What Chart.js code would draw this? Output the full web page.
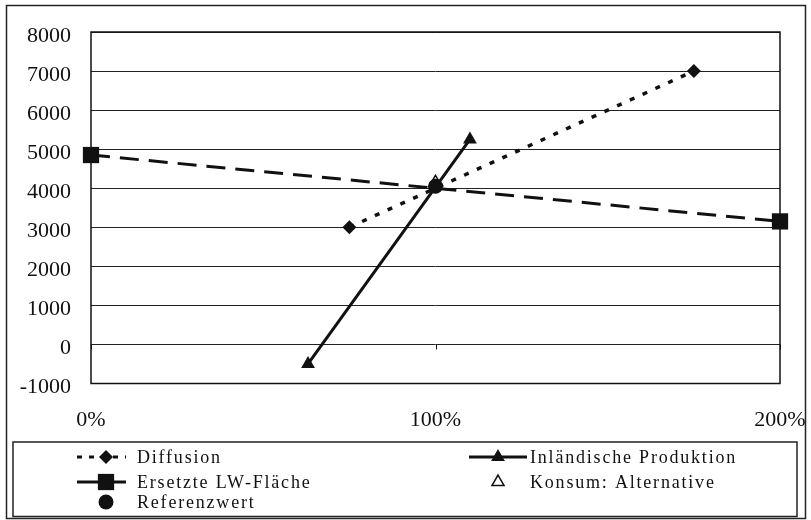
<!DOCTYPE html>
<html>
<head>
<meta charset="utf-8">
<style>
  html, body { margin: 0; padding: 0; background: #fff; }
  #wrap { width: 811px; height: 520px; position: relative; }
</style>
<script src="https://cdn.jsdelivr.net/npm/chart.js@4.4.1/dist/chart.umd.min.js"></script>
</head>
<body>
<div id="wrap"><canvas id="c" width="811" height="520"></canvas></div>
<script>
// ---- data ----
const xTickValues = [0, 100, 200];           // percent
const yMin = -1000, yMax = 8000, yStep = 1000;

const seriesNames = ["Diffusion", "Inländische Produktion", "Ersetzte LW-Fläche", "Konsum: Alternative", "Referenzwert"];

const diffusionX = [75, 175];
const diffusionY = [3000, 7000];

const inlandX = [63, 110];
const inlandY = [-500, 5250];

const ersetzteX = [0, 200];
const ersetzteY = [4850, 3150];

const konsumX = [100];
const konsumY = [4150];

const referenzX = [100];
const referenzY = [4050];

const INK = '#111';
const FONT = '"Liberation Serif", "Times New Roman", serif';

function pts(xs, ys) { return xs.map((x, i) => ({ x: x, y: ys[i] })); }

const datasets = [
  { label: seriesNames[0], data: pts(diffusionX, diffusionY), showLine: true,
    borderColor: INK, backgroundColor: INK, borderWidth: 3.5, borderDash: [5, 9],
    pointStyle: 'rectRot', pointRadius: 7, pointBorderWidth: 0, order: 3, clip: false },
  { label: seriesNames[1], data: pts(inlandX, inlandY), showLine: true,
    borderColor: INK, backgroundColor: INK, borderWidth: 3,
    pointStyle: 'triangle', pointRadius: 8, pointBorderWidth: 0, order: 2, clip: false },
  { label: seriesNames[2], data: pts(ersetzteX, ersetzteY), showLine: true,
    borderColor: INK, backgroundColor: INK, borderWidth: 3, borderDash: [19, 10],
    pointStyle: 'rect', pointRadius: 11.5, pointBorderWidth: 0, order: 4, clip: false },
  { label: seriesNames[3], data: pts(konsumX, konsumY), showLine: false,
    borderColor: INK, backgroundColor: '#fff', borderWidth: 1.5,
    pointStyle: 'triangle', pointRadius: 7, pointBorderWidth: 1.5, order: 1, clip: false },
  { label: seriesNames[4], data: pts(referenzX, referenzY), showLine: false,
    borderColor: INK, backgroundColor: INK, borderWidth: 0,
    pointStyle: 'circle', pointRadius: 7.5, pointBorderWidth: 0, order: 0, clip: false }
];

// legend layout: [datasetIndex, column, row]
const legendLayout = [[0, 0, 0], [1, 1, 0], [2, 0, 1], [3, 1, 1], [4, 0, 2]];

function drawMarker(ctx, style, x, y, r, fill, stroke, bw) {
  ctx.save();
  ctx.setLineDash([]);
  ctx.beginPath();
  if (style === 'rectRot') {
    ctx.moveTo(x, y - r); ctx.lineTo(x + r, y); ctx.lineTo(x, y + r); ctx.lineTo(x - r, y); ctx.closePath();
  } else if (style === 'rect') {
    const s = r * Math.SQRT1_2;
    ctx.rect(x - s, y - s, 2 * s, 2 * s);
  } else if (style === 'triangle') {
    const half = r * Math.sqrt(3) / 2;
    ctx.moveTo(x, y - r); ctx.lineTo(x + half, y + r / 2); ctx.lineTo(x - half, y + r / 2); ctx.closePath();
  } else {
    ctx.arc(x, y, r, 0, Math.PI * 2);
  }
  ctx.fillStyle = fill; ctx.fill();
  if (bw > 0) { ctx.lineWidth = bw; ctx.strokeStyle = stroke; ctx.stroke(); }
  ctx.restore();
}

const framePlugin = {
  id: 'frame',
  beforeDraw(chart) {
    const ctx = chart.ctx;
    ctx.save();
    ctx.fillStyle = '#fff';
    ctx.fillRect(0, 0, chart.width, chart.height);
    ctx.strokeStyle = '#222';
    ctx.lineWidth = 1.5;
    ctx.strokeRect(6.5, 5.5, 799, 513);
    ctx.restore();
  },
  beforeDatasetsDraw(chart) {
    const ctx = chart.ctx, a = chart.chartArea;
    const xs = chart.scales.x, ys = chart.scales.y;
    ctx.save();
    ctx.strokeStyle = INK;
    ctx.lineWidth = 1.5;
    ctx.strokeRect(a.left, a.top, a.right - a.left, a.bottom - a.top);
    // small tick marks on the zero line
    const y0 = ys.getPixelForValue(0);
    ctx.lineWidth = 1;
    xTickValues.forEach(v => {
      const px = Math.round(xs.getPixelForValue(v)) + 0.5;
      ctx.beginPath(); ctx.moveTo(px, y0); ctx.lineTo(px, y0 + 5); ctx.stroke();
    });
    ctx.restore();
  },
  afterDraw(chart) {
    const ctx = chart.ctx;
    ctx.save();
    // legend box
    ctx.strokeStyle = '#222';
    ctx.lineWidth = 1.5;
    ctx.strokeRect(13, 442, 784, 74.5);
    const cols = [{ x0: 77, x1: 126, mx: 106, tx: 137 }, { x0: 469, x1: 527, mx: 498, tx: 530 }];
    const rows = [457, 482, 502];
    ctx.font = '18px ' + FONT;
    if ('letterSpacing' in ctx) ctx.letterSpacing = '1.8px';
    ctx.textBaseline = 'middle';
    ctx.textAlign = 'left';
    legendLayout.forEach(([di, c, r]) => {
      const ds = chart.data.datasets[di];
      const col = cols[c], y = rows[r];
      if (ds.showLine) {
        ctx.save();
        ctx.strokeStyle = ds.borderColor;
        ctx.lineWidth = 3;
        if (di === 0) ctx.setLineDash([5, 7]); else ctx.setLineDash([]);
        ctx.beginPath(); ctx.moveTo(col.x0, y); ctx.lineTo(col.x1, y); ctx.stroke();
        ctx.restore();
      }
      drawMarker(ctx, ds.pointStyle, col.mx, y, ds.pointRadius, ds.backgroundColor, ds.borderColor, ds.pointBorderWidth);
      ctx.fillStyle = INK;
      ctx.fillText(ds.label, col.tx, y + 1);
    });
    ctx.restore();
  }
};

new Chart(document.getElementById('c'), {
  type: 'scatter',
  data: { datasets: datasets },
  plugins: [framePlugin],
  options: {
    responsive: false,
    animation: false,
    devicePixelRatio: 1,
    layout: { padding: { top: 32, right: 31, left: 0, bottom: 0 } },
    plugins: { legend: { display: false }, tooltip: { enabled: false } },
    scales: {
      x: {
        type: 'linear', min: 0, max: 200,
        afterBuildTicks: s => { s.ticks = xTickValues.map(v => ({ value: v })); },
        afterFit: s => { s.height = 136.5; s.paddingLeft = 0; s.paddingRight = 0; },
        grid: { display: false, drawTicks: false },
        border: { display: false },
        ticks: { callback: v => v + '%', color: INK, font: { family: FONT, size: 22 }, padding: 24, maxRotation: 0 }
      },
      y: {
        type: 'linear', min: yMin, max: yMax,
        ticks: { stepSize: yStep, callback: v => String(v), color: INK, font: { family: FONT, size: 22 }, padding: 20, labelOffset: 4 },
        afterFit: s => { s.width = 91; s.paddingTop = 0; s.paddingBottom = 0; },
        grid: { color: '#222', lineWidth: 1, drawTicks: false },
        border: { display: false }
      }
    }
  }
});
</script>
</body>
</html>
